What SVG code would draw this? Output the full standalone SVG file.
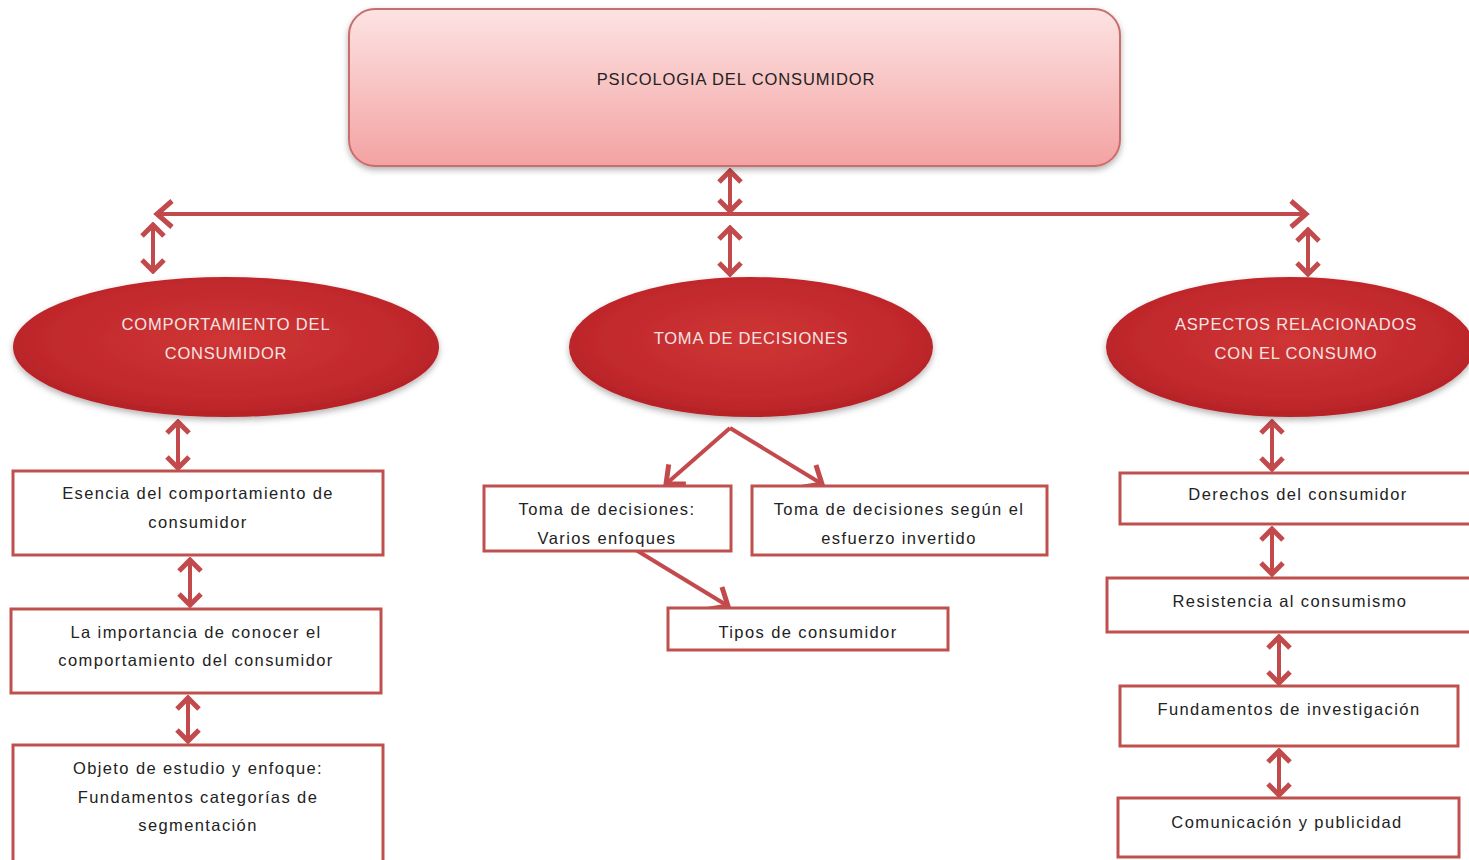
<svg xmlns="http://www.w3.org/2000/svg" width="1469" height="860" viewBox="0 0 1469 860">
<defs>
<linearGradient id="topg" x1="0" y1="0" x2="0" y2="1">
<stop offset="0" stop-color="#fde3e3"/>
<stop offset="1" stop-color="#f3a2a2"/>
</linearGradient>
<radialGradient id="ellg" cx="0.5" cy="0.45" r="0.55">
<stop offset="0" stop-color="#cf3535"/>
<stop offset="0.8" stop-color="#c0282c"/>
<stop offset="1" stop-color="#b52226"/>
</radialGradient>
<filter id="sh" x="-10%" y="-10%" width="120%" height="130%">
<feDropShadow dx="0" dy="3" stdDeviation="3" flood-color="#000" flood-opacity="0.3"/>
</filter>
<marker id="hd" viewBox="0 0 16 26" refX="13" refY="13" markerWidth="16" markerHeight="26" markerUnits="userSpaceOnUse" orient="auto-start-reverse">
<path d="M2,2 L13,13 L2,24" fill="none" stroke="#c24a4c" stroke-width="5" stroke-linejoin="miter"/>
</marker>
<marker id="hdL" viewBox="0 0 22 32" refX="18" refY="16" markerWidth="22" markerHeight="32" markerUnits="userSpaceOnUse" orient="auto-start-reverse">
<path d="M3,3 L18,16 L3,29" fill="none" stroke="#c24a4c" stroke-width="5"/>
</marker>
<style>
.box{fill:#fff;stroke:#c0504d;stroke-width:3}
.t{font-family:"Liberation Sans",Arial,sans-serif;font-size:16.5px;fill:#222;text-anchor:middle;letter-spacing:1.4px}
.tt{font-family:"Liberation Sans",Arial,sans-serif;font-size:16.5px;fill:#222;text-anchor:middle;letter-spacing:0.9px}
.et{font-family:"Liberation Sans",Arial,sans-serif;font-size:16.5px;fill:#f6e4e4;text-anchor:middle;letter-spacing:0.8px}
.c{fill:none;stroke:#c24a4c;stroke-width:4}
.d{fill:none;stroke:#c24a4c;stroke-width:4;marker-start:url(#hd);marker-end:url(#hd)}
.s{fill:none;stroke:#c24a4c;stroke-width:4;marker-end:url(#hdL)}
</style>
</defs>
<rect width="1469" height="860" fill="#fff"/>

<g id="connectors">
<line class="d" x1="730" y1="171" x2="730" y2="211"/>
<line class="c" x1="157" y1="214" x2="1306" y2="214" stroke-width="5" marker-start="url(#hdL)" marker-end="url(#hdL)"/>
<line class="d" x1="153" y1="225" x2="153" y2="271"/>
<line class="d" x1="730" y1="228" x2="730" y2="274"/>
<line class="d" x1="1308" y1="230" x2="1308" y2="274"/>
<line class="d" x1="178" y1="422" x2="178" y2="468"/>
<line class="d" x1="190" y1="560" x2="190" y2="605"/>
<line class="d" x1="188" y1="698" x2="188" y2="741"/>
<path class="s" d="M730,428 L666,484"/>
<path class="s" d="M730,428 L822,484"/>
<path class="s" d="M636,550 L728,606"/>
<line class="d" x1="1272" y1="422" x2="1272" y2="469"/>
<line class="d" x1="1272" y1="529" x2="1272" y2="574"/>
<line class="d" x1="1279" y1="637" x2="1279" y2="683"/>
<line class="d" x1="1279" y1="751" x2="1279" y2="795"/>
</g>

<g id="root">
<rect x="349" y="9" width="771" height="157" rx="26" fill="url(#topg)" stroke="#c96d6d" stroke-width="2" filter="url(#sh)"/>
<text class="tt" x="736" y="85">PSICOLOGIA DEL CONSUMIDOR</text>
</g>

<g id="comportamiento">
<ellipse cx="226" cy="347" rx="213" ry="70" fill="url(#ellg)" filter="url(#sh)"/>
<text class="et" x="226" y="330">COMPORTAMIENTO DEL</text>
<text class="et" x="226" y="359">CONSUMIDOR</text>
</g>
<g id="toma">
<ellipse cx="751" cy="347" rx="182" ry="70" fill="url(#ellg)" filter="url(#sh)"/>
<text class="et" x="751" y="344">TOMA DE DECISIONES</text>
</g>
<g id="aspectos">
<ellipse cx="1290" cy="347" rx="184" ry="70" fill="url(#ellg)" filter="url(#sh)"/>
<text class="et" x="1296" y="330">ASPECTOS RELACIONADOS</text>
<text class="et" x="1296" y="359">CON EL CONSUMO</text>
</g>

<g id="esencia">
<rect class="box" x="13" y="471" width="370" height="84"/>
<text class="t" x="198" y="499">Esencia del comportamiento de</text>
<text class="t" x="198" y="528">consumidor</text>
</g>
<g id="importancia">
<rect class="box" x="11" y="609" width="370" height="84"/>
<text class="t" x="196" y="638">La importancia de conocer el</text>
<text class="t" x="196" y="666">comportamiento del consumidor</text>
</g>
<g id="objeto">
<rect class="box" x="13" y="745" width="370" height="125"/>
<text class="t" x="198" y="774">Objeto de estudio y enfoque:</text>
<text class="t" x="198" y="803">Fundamentos categorías de</text>
<text class="t" x="198" y="831">segmentación</text>
</g>

<g id="varios">
<rect class="box" x="484" y="486" width="247" height="65"/>
<text class="t" x="607" y="515">Toma de decisiones:</text>
<text class="t" x="607" y="544">Varios enfoques</text>
</g>
<g id="esfuerzo">
<rect class="box" x="752" y="486" width="295" height="69"/>
<text class="t" x="899" y="515">Toma de decisiones según el</text>
<text class="t" x="899" y="544">esfuerzo invertido</text>
</g>
<g id="tipos">
<rect class="box" x="668" y="608" width="280" height="42"/>
<text class="t" x="808" y="638">Tipos de consumidor</text>
</g>

<g id="derechos">
<rect class="box" x="1120" y="473" width="360" height="51"/>
<text class="t" x="1298" y="500">Derechos del consumidor</text>
</g>
<g id="resistencia">
<rect class="box" x="1107" y="578" width="373" height="54"/>
<text class="t" x="1290" y="607">Resistencia al consumismo</text>
</g>
<g id="fundamentos">
<rect class="box" x="1120" y="686" width="338" height="60"/>
<text class="t" x="1289" y="715">Fundamentos de investigación</text>
</g>
<g id="comunicacion">
<rect class="box" x="1118" y="798" width="341" height="59"/>
<text class="t" x="1287" y="828">Comunicación y publicidad</text>
</g>
</svg>
